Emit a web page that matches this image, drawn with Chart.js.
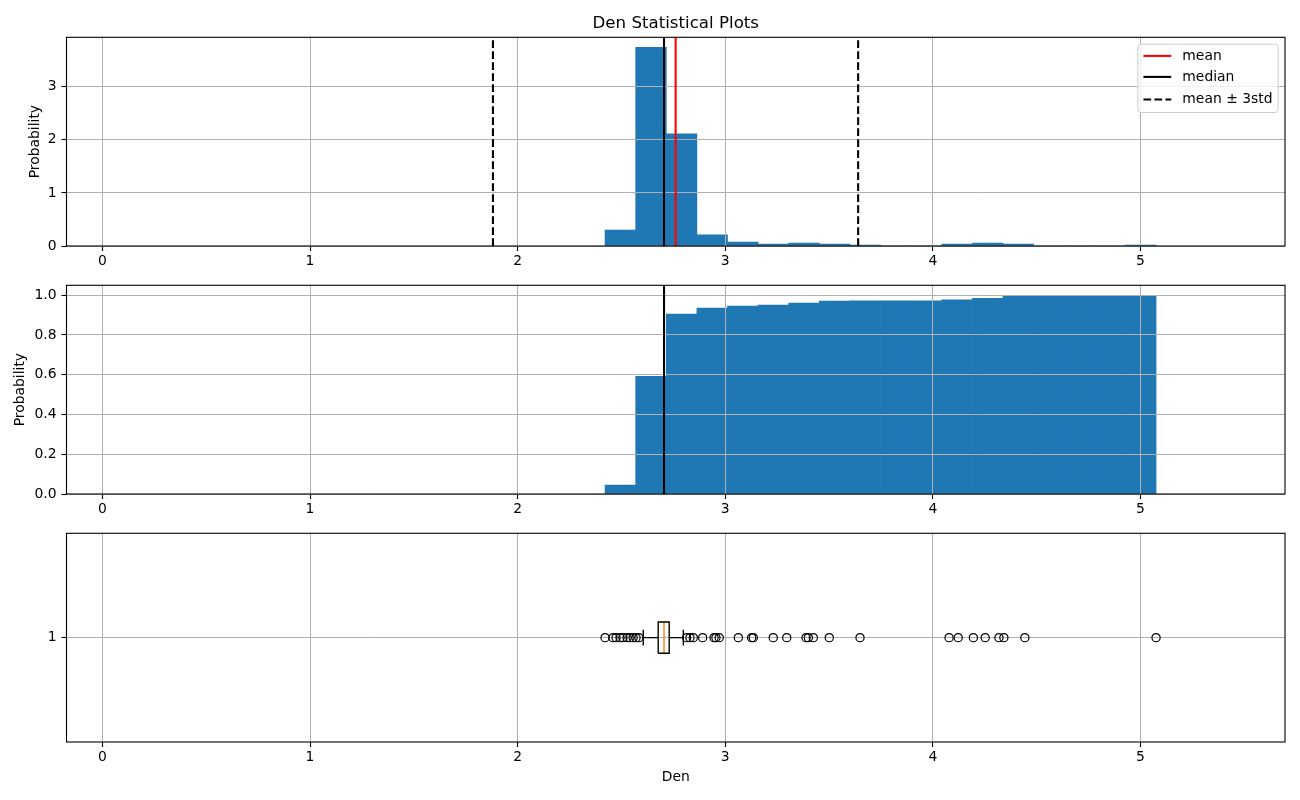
<!DOCTYPE html>
<html>
<head>
<meta charset="utf-8">
<script src="https://cdn.jsdelivr.net/npm/chart.js@4.4.1/dist/chart.umd.min.js"></script>
<style>
html,body{margin:0;padding:0;background:#ffffff;}
#wrap{position:relative;width:1300px;height:800px;overflow:hidden;background:#fff;}
#wrap canvas{position:absolute;left:0;}
</style>
</head>
<body>
<div id="wrap">
  <canvas id="c1" width="1300" height="270" style="top:0px"></canvas>
  <canvas id="c2" width="1300" height="250" style="top:270px"></canvas>
  <canvas id="c3" width="1300" height="280" style="top:520px"></canvas>
</div>
<script>
// ---------------- DATA ----------------
const chartTitle = 'Den Statistical Plots';
const xAxisLabel = 'Den';
const yAxisLabel = 'Probability';

// histogram bin edges (18 bins)
const binEdges = [2.421, 2.5684, 2.7159, 2.8633, 3.0108, 3.1582, 3.3056, 3.4531, 3.6005,
                  3.7480, 3.8954, 4.0428, 4.1903, 4.3377, 4.4852, 4.6326, 4.7800, 4.9275, 5.075];
// probability density per bin
const densityValues = [0.30, 3.74, 2.11, 0.21, 0.075, 0.038, 0.057, 0.038, 0.019,
                       0, 0, 0.038, 0.057, 0.038, 0, 0, 0, 0.019];
// cumulative probability per bin
const cumulativeValues = [0.045, 0.592, 0.905, 0.935, 0.945, 0.950, 0.960, 0.970, 0.972,
                          0.972, 0.972, 0.977, 0.985, 0.995, 0.995, 0.995, 0.995, 1.0];

// summary statistics
const meanValue = 2.761;
const medianValue = 2.705;
const lowerBound = 1.881;   // mean - 3std
const upperBound = 3.640;   // mean + 3std
const quartiles = [2.677, 2.730];
const whiskers = [2.605, 2.798];
const outlierValues = [2.421, 2.459, 2.474, 2.493, 2.507, 2.527, 2.541, 2.556, 2.570, 2.584,
                       2.814, 2.830, 2.846, 2.891, 2.946, 2.955, 2.971, 3.063, 3.127, 3.135,
                       3.231, 3.296, 3.389, 3.400, 3.424, 3.501, 3.649, 4.078, 4.122, 4.195,
                       4.252, 4.318, 4.342, 4.443, 5.075];

// tick labels / axis limits
const xTicks = [0, 1, 2, 3, 4, 5];
const xLimits = [-0.173, 5.696];
const histYTicks = [0, 1, 2, 3];
const histYLimits = [0, 3.93];
const cumYTicks = [0, 0.2, 0.4, 0.6, 0.8, 1.0];
const cumYLimits = [0, 1.05];
const boxYTicks = [1];
const boxYLimits = [0.5, 1.5];
const legendLabels = ['mean', 'median', 'mean \u00b1 3std'];

// ---------------- STYLE ----------------
const BAR = '#1f77b4';
const GRID = '#b0b0b0';
const FONT = 'DejaVu Sans';
Chart.defaults.font.family = FONT;
Chart.defaults.font.size = 13.9;
Chart.defaults.color = '#000';
Chart.defaults.animation = false;

const DASH = [7.7, 3.3];

function binCenters() {
  const c = [];
  for (let i = 0; i < binEdges.length - 1; i++) c.push((binEdges[i] + binEdges[i + 1]) / 2);
  return c;
}
function alignPx(p) { return Math.round(p - 0.5) + 0.5; }

// frame (spines)
const framePlugin = {
  id: 'frame',
  afterDatasetsDraw(chart) {
    const {ctx, chartArea: a} = chart;
    ctx.save();
    ctx.strokeStyle = '#000';
    ctx.lineWidth = 1.1;
    ctx.strokeRect(a.left, a.top, a.right - a.left, a.bottom - a.top);
    ctx.restore();
  }
};

// grid lines drawn over the histogram bars (matplotlib axisbelow='line')
const gridOverBars = {
  id: 'gridOverBars',
  afterDatasetDraw(chart, args) {
    const ds = chart.data.datasets[args.index];
    if (ds.type !== 'bar') return;
    const {ctx, chartArea: a} = chart;
    const xs = chart.scales.x, ys = chart.scales.y;
    ctx.save();
    ctx.strokeStyle = GRID;
    ctx.lineWidth = 1;
    ctx.beginPath();
    xs.ticks.forEach(t => {
      const p = alignPx(xs.getPixelForValue(t.value));
      ctx.moveTo(p, a.top); ctx.lineTo(p, a.bottom);
    });
    ys.ticks.forEach(t => {
      const p = alignPx(ys.getPixelForValue(t.value));
      ctx.moveTo(a.left, p); ctx.lineTo(a.right, p);
    });
    ctx.stroke();
    ctx.restore();
  }
};

// legend drawn inside the plot (upper right)
const innerLegend = {
  id: 'innerLegend',
  afterDraw(chart) {
    const {ctx, chartArea: a} = chart;
    const fs = 13.9;
    ctx.save();
    ctx.font = fs + 'px ' + FONT;
    const tw = Math.max(...legendLabels.map(t => ctx.measureText(t).width));
    const pad = 5.56, handle = 27.8, gap = 11.1;
    const w = pad + handle + gap + tw + pad;
    const h = 68.3;
    const x0 = a.right - 6.9 - w;
    const y0 = a.top + 6.9;
    const r = 2.8;
    ctx.beginPath();
    ctx.moveTo(x0 + r, y0);
    ctx.lineTo(x0 + w - r, y0); ctx.arcTo(x0 + w, y0, x0 + w, y0 + r, r);
    ctx.lineTo(x0 + w, y0 + h - r); ctx.arcTo(x0 + w, y0 + h, x0 + w - r, y0 + h, r);
    ctx.lineTo(x0 + r, y0 + h); ctx.arcTo(x0, y0 + h, x0, y0 + h - r, r);
    ctx.lineTo(x0, y0 + r); ctx.arcTo(x0, y0, x0 + r, y0, r);
    ctx.closePath();
    ctx.fillStyle = 'rgba(255,255,255,0.8)';
    ctx.fill();
    ctx.strokeStyle = '#cccccc';
    ctx.lineWidth = 1;
    ctx.stroke();
    const rows = [11.7, 32.7, 55.3];
    const colors = ['#ff0000', '#000000', '#000000'];
    const dashes = [[], [], DASH];
    rows.forEach((ry, i) => {
      const y = y0 + ry;
      ctx.beginPath();
      ctx.setLineDash(dashes[i]);
      ctx.strokeStyle = colors[i];
      ctx.lineWidth = 2.08;
      ctx.moveTo(x0 + pad, y); ctx.lineTo(x0 + pad + handle, y);
      ctx.stroke();
      ctx.setLineDash([]);
      ctx.fillStyle = '#000';
      ctx.textBaseline = 'middle';
      ctx.textAlign = 'left';
      ctx.fillText(legendLabels[i], x0 + pad + handle + gap, y);
    });
    ctx.restore();
  }
};

function xScale(height, withTitle, gridOnArea) {
  return {
    type: 'linear',
    min: xLimits[0], max: xLimits[1],
    offset: false,
    grid: {color: GRID, lineWidth: 1, tickColor: '#000', tickLength: 5, tickWidth: 1.1, offset: false, drawOnChartArea: gridOnArea},
    border: {display: false},
    ticks: {autoSkip: false, maxRotation: 0, padding: 2, callback: v => String(v)},
    afterBuildTicks: s => { s.ticks = xTicks.map(v => ({value: v})); },
    afterFit: s => { s.height = height; },
    title: withTitle ? {display: true, text: xAxisLabel, font: {size: 13.9}, padding: {top: 0, bottom: 14.7}} : {display: false}
  };
}

function yScale(limits, ticks, fmt, titlePad, withTitle, gridOnArea) {
  return {
    type: 'linear',
    min: limits[0], max: limits[1],
    grid: {color: GRID, lineWidth: 1, tickColor: '#000', tickLength: 5, tickWidth: 1.1, drawOnChartArea: gridOnArea},
    border: {display: false},
    ticks: {autoSkip: false, padding: 4.9, callback: fmt},
    afterBuildTicks: s => { s.ticks = ticks.map(v => ({value: v})); },
    afterFit: s => { s.width = 66.5; },
    title: withTitle ? {display: true, text: yAxisLabel, font: {size: 13.9}, padding: {top: titlePad, bottom: 0}} : {display: false}
  };
}

function vline(x, yl, color, dash, label) {
  return {
    type: 'line', label: label, order: 1,
    data: [{x: x, y: yl[0]}, {x: x, y: yl[1]}],
    borderColor: color, borderWidth: 2.08, borderDash: dash,
    pointRadius: 0, fill: false, tension: 0
  };
}

const centers = binCenters();

// ---------- Chart 1: density histogram ----------
new Chart(document.getElementById('c1'), {
  type: 'bar',
  data: {
    datasets: [
      vline(meanValue, histYLimits, '#ff0000', [], legendLabels[0]),
      vline(medianValue, histYLimits, '#000000', [], legendLabels[1]),
      vline(lowerBound, histYLimits, '#000000', DASH, legendLabels[2]),
      vline(upperBound, histYLimits, '#000000', DASH, ''),
      {
        type: 'bar', order: 2,
        data: centers.map((c, i) => ({x: c, y: densityValues[i]})),
        backgroundColor: BAR, borderWidth: 0,
        barPercentage: 1, categoryPercentage: 1
      }
    ]
  },
  options: {
    responsive: false,
    layout: {padding: {left: 0, right: 15, top: 0, bottom: 0}},
    plugins: {
      legend: {display: false}, tooltip: {enabled: false},
      title: {display: true, fullSize: false, text: chartTitle, color: '#000',
              font: {size: 16.67, weight: 'normal', lineHeight: 1.2}, padding: {top: 14, bottom: 3.3}}
    },
    scales: {
      x: xScale(24, false, false),
      y: yScale(histYLimits, histYTicks, v => String(v), 26.7, true, false)
    }
  },
  plugins: [gridOverBars, framePlugin, innerLegend]
});

// ---------- Chart 2: cumulative histogram ----------
new Chart(document.getElementById('c2'), {
  type: 'bar',
  data: {
    datasets: [
      vline(medianValue, cumYLimits, '#000000', [], 'median'),
      {
        type: 'bar', order: 2,
        data: centers.map((c, i) => ({x: c, y: cumulativeValues[i]})),
        backgroundColor: BAR, borderWidth: 0,
        barPercentage: 1, categoryPercentage: 1
      }
    ]
  },
  options: {
    responsive: false,
    layout: {padding: {left: 0, right: 15, top: 15.3, bottom: 0}},
    plugins: {legend: {display: false}, tooltip: {enabled: false}},
    scales: {
      x: xScale(26, false, false),
      y: yScale(cumYLimits, cumYTicks, v => Number(v).toFixed(1), 12.2, true, false)
    }
  },
  plugins: [gridOverBars, framePlugin]
});

// ---------- Chart 3: box plot ----------
const boxHalf = 0.075, capHalf = 0.0375, boxPos = 1;
function seg(points, color) {
  return {
    type: 'scatter', showLine: true, data: points,
    borderColor: color, borderWidth: 1.39, pointRadius: 0, fill: false, tension: 0
  };
}
new Chart(document.getElementById('c3'), {
  type: 'scatter',
  data: {
    datasets: [
      {
        data: outlierValues.map(v => ({x: v, y: boxPos})),
        pointStyle: 'circle', pointRadius: 4.1, borderWidth: 1.2,
        borderColor: '#000', backgroundColor: 'rgba(0,0,0,0)', showLine: false
      },
      seg([{x: quartiles[0], y: boxPos - boxHalf}, {x: quartiles[1], y: boxPos - boxHalf},
           {x: quartiles[1], y: boxPos + boxHalf}, {x: quartiles[0], y: boxPos + boxHalf},
           {x: quartiles[0], y: boxPos - boxHalf}], '#000'),
      seg([{x: whiskers[0], y: boxPos}, {x: quartiles[0], y: boxPos}], '#000'),
      seg([{x: quartiles[1], y: boxPos}, {x: whiskers[1], y: boxPos}], '#000'),
      seg([{x: whiskers[0], y: boxPos - capHalf}, {x: whiskers[0], y: boxPos + capHalf}], '#000'),
      seg([{x: whiskers[1], y: boxPos - capHalf}, {x: whiskers[1], y: boxPos + capHalf}], '#000'),
      seg([{x: medianValue, y: boxPos - boxHalf}, {x: medianValue, y: boxPos + boxHalf}], '#ff7f0e')
    ]
  },
  options: {
    responsive: false,
    layout: {padding: {left: 0, right: 15, top: 13.3, bottom: 0}},
    plugins: {legend: {display: false}, tooltip: {enabled: false}},
    scales: {
      x: xScale(58, true, true),
      y: yScale(boxYLimits, boxYTicks, v => String(v), 26.7, false, true)
    }
  },
  plugins: [framePlugin]
});
</script>
</body>
</html>
